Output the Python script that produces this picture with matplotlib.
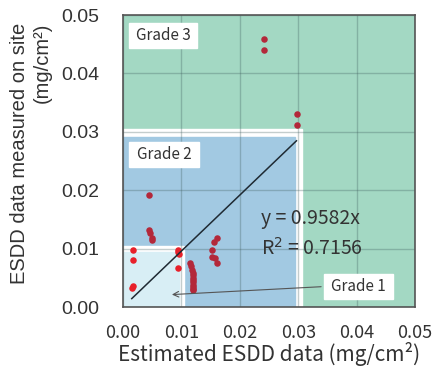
import matplotlib
matplotlib.use("Agg")
import matplotlib.pyplot as plt
from matplotlib.patches import Rectangle
import numpy as np

# Grade 1 points (bright red)
g1_x = [0.00166, 0.00166, 0.00166, 0.00160, 0.00947, 0.00964, 0.00947, 0.00950]
g1_y = [0.00976, 0.00805, 0.00360, 0.00330, 0.00976, 0.00902, 0.00663, 0.00940]

# Grade 2 / 3 points (dark red)
g2_x = [0.02414, 0.02414, 0.02974, 0.02974,
        0.0045, 0.0045, 0.00462, 0.00502, 0.00491,
        0.01604, 0.01564, 0.01518, 0.01530, 0.01575, 0.01615,
        0.01147, 0.01160, 0.01187, 0.01200, 0.01204, 0.01204, 0.01204,
        0.01204, 0.01204, 0.01204, 0.01204, 0.01204]
g2_y = [0.04584, 0.04406, 0.03305, 0.03111,
        0.01918, 0.01318, 0.01262, 0.01176, 0.01147,
        0.01176, 0.01118, 0.00976, 0.00861, 0.00834, 0.00759,
        0.00748, 0.00700, 0.00634, 0.00590, 0.00548, 0.00505, 0.00462,
        0.00420, 0.00377, 0.00335, 0.00300, 0.00291]

fit_slope = 0.9582
fit_r2 = 0.7156
fit_x = [0.0015, 0.0297]

ticks = [0.00, 0.01, 0.02, 0.03, 0.04, 0.05]

jp = "Noto Sans CJK JP"
en = "Liberation Sans"

fig = plt.figure(figsize=(4.36, 3.69), dpi=100)
ax = fig.add_axes([123 / 436, 62 / 369, 292 / 436, 292 / 369])

# background regions
ax.set_facecolor("#a3d8c3")
ax.add_patch(Rectangle((0, 0), 0.0307, 0.0305, color="white", zorder=0.1))
ax.add_patch(Rectangle((0, 0), 0.0295, 0.0291, color="#a2c9e2", zorder=0.2))
ax.add_patch(Rectangle((0, 0), 0.0105, 0.0105, color="white", zorder=0.3))
ax.add_patch(Rectangle((0, 0), 0.0096, 0.0094, color="#d8eef5", zorder=0.4))

ax.set_xlim(0, 0.05)
ax.set_ylim(0, 0.05)
ax.set_xticks(ticks)
ax.set_yticks(ticks)
ax.set_xticklabels(["%.2f" % t for t in ticks], fontfamily=jp, fontsize=13)
ax.set_yticklabels(["%.2f" % t for t in ticks], fontfamily=en, fontsize=14)
ax.tick_params(length=0, colors="#333333")
ax.tick_params(axis="y", pad=17)
ax.tick_params(axis="x", pad=12)
ax.grid(True, color="#3c5a5a", alpha=0.3, lw=1)
ax.set_axisbelow(True)
for s in ax.spines.values():
    s.set_color("#555555")
    s.set_linewidth(1.2)

# points
ax.scatter(g2_x, g2_y, s=22, color="#b3283a", zorder=3, linewidths=0)
ax.scatter(g1_x, g1_y, s=22, color="#e8202a", zorder=3, linewidths=0)

# fitted line
fx = np.array(fit_x)
ax.plot(fx, fit_slope * fx, color="#1f2a33", lw=1.1, zorder=4)

ax.text(0.0237, 0.0151, "y = %.4fx" % fit_slope, fontfamily=jp, fontsize=14,
        color="#333333", va="center", zorder=5)
ax.text(0.0237, 0.0100, "R$^2$ = %.4f" % fit_r2, fontfamily=jp, fontsize=14,
        color="#333333", va="center", zorder=5)

# grade labels
boxes = [("Grade 3", 0.0010, 0.0444, 0.0117), ("Grade 2", 0.0011, 0.0240, 0.0119),
         ("Grade 1", 0.0344, 0.0014, 0.0118)]
for name, bx, by, bw in boxes:
    ax.add_patch(Rectangle((bx, by), bw, 0.0042, color="white", zorder=5))
    ax.text(bx + bw / 2, by + 0.0021, name, fontfamily=jp, fontsize=11,
            color="#333333", ha="center", va="center", zorder=6)

ax.annotate("", xy=(0.0079, 0.0021), xytext=(0.0344, 0.0035),
            arrowprops=dict(arrowstyle="->", color="#555555", lw=0.8), zorder=6)

ax.set_xlabel("Estimated ESDD data (mg/cm²)", fontfamily=jp, fontsize=15,
              color="#333333", labelpad=0)
ax.set_ylabel("ESDD data measured on site\n(mg/cm²)", fontfamily=en, fontsize=14.5,
              color="#333333", multialignment="right")
ax.yaxis.set_label_coords(-0.245, 0.525)

fig.savefig("out.png", dpi=100)
